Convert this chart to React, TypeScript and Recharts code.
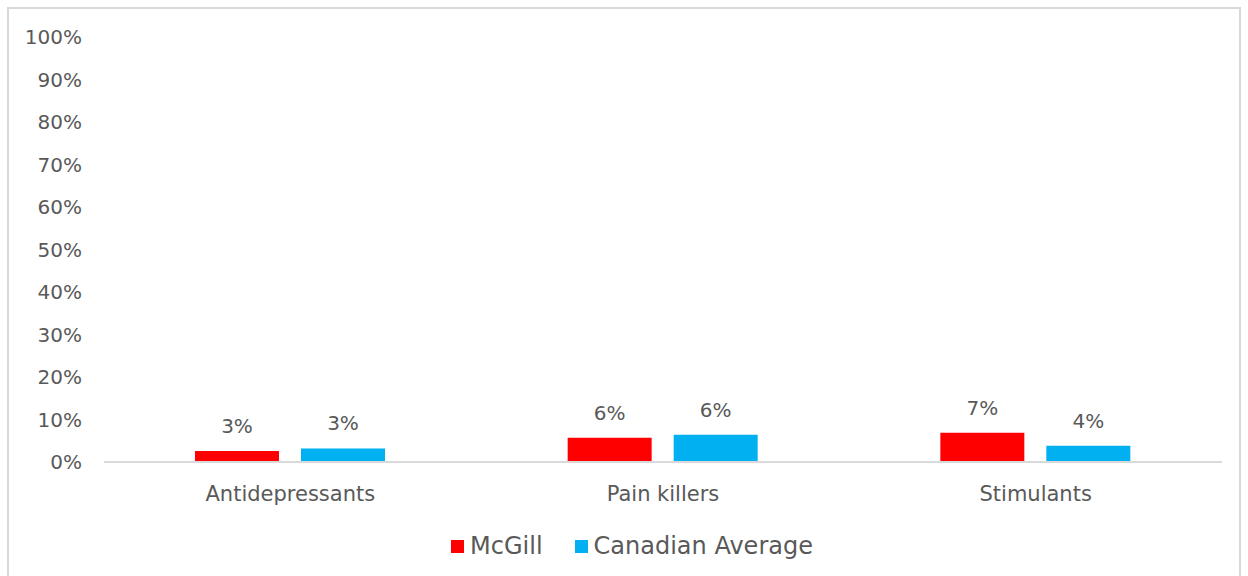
import React from 'react';
import { BarChart, Bar, XAxis, YAxis, Legend, LabelList } from 'recharts';

const categories = ['Antidepressants', 'Pain killers', 'Stimulants'];
const mcgill = [2.6, 5.7, 6.9];
const canadian = [3.2, 6.4, 3.8];
const yTicks = [0, 10, 20, 30, 40, 50, 60, 70, 80, 90, 100];

const data = categories.map((c, i) => ({ name: c, mcgill: mcgill[i], canadian: canadian[i] }));

const FONT = '"DejaVu Sans", sans-serif';
const TXT = '#595959';

const legendItems = [
  { label: 'McGill', color: '#ff0000' },
  { label: 'Canadian Average', color: '#00b0f0' },
];

const LegendContent = () => (
  <div style={{ display: 'flex', justifyContent: 'center', alignItems: 'center', fontFamily: FONT, fontSize: 24, color: TXT, transform: 'translateX(21px)' }}>
    {legendItems.map((it, i) => (
      <div key={i} style={{ display: 'flex', alignItems: 'center', marginLeft: i === 0 ? 0 : 32 }}>
        <span style={{ display: 'inline-block', width: 13, height: 13, background: it.color, marginRight: 6 }} />
        <span>{it.label}</span>
      </div>
    ))}
  </div>
);

export default function App() {
  return (
    <div style={{ position: 'absolute', left: 0, top: 0, width: 1248, height: 576, background: '#fff', overflow: 'hidden' }}>
      <div style={{ position: 'absolute', left: 7, top: 7, width: 1234, height: 580, border: '2px solid #d9d9d9', boxSizing: 'border-box' }} />
      <div style={{ position: 'absolute', left: 0, top: 0 }}>
        <BarChart
          width={1248}
          height={576}
          data={data}
          margin={{ top: 37, right: 26, left: 0, bottom: 16 }}
          barSize={84}
          barGap={22}
        >
          <XAxis
            dataKey="name"
            axisLine={{ stroke: '#d9d9d9', strokeWidth: 2 }}
            tickLine={false}
            tick={{ fill: TXT, fontSize: 21, fontFamily: FONT }}
            tickMargin={18}
            height={50}
          />
          <YAxis
            domain={[0, 100]}
            ticks={yTicks}
            interval={0}
            tickFormatter={(v: number) => `${v}%`}
            axisLine={false}
            tickLine={false}
            tick={{ fill: TXT, fontSize: 20, fontFamily: FONT }}
            tickMargin={16}
            width={104}
          />
          <Legend verticalAlign="bottom" content={<LegendContent />} wrapperStyle={{ paddingTop: 20 }} />
          <Bar dataKey="mcgill" fill="#ff0000" isAnimationActive={false}>
            <LabelList dataKey="mcgill" position="top" offset={18} formatter={(v: number) => `${Math.round(v)}%`} style={{ fill: TXT, fontSize: 20, fontFamily: FONT }} />
          </Bar>
          <Bar dataKey="canadian" fill="#00b0f0" isAnimationActive={false}>
            <LabelList dataKey="canadian" position="top" offset={18} formatter={(v: number) => `${Math.round(v)}%`} style={{ fill: TXT, fontSize: 20, fontFamily: FONT }} />
          </Bar>
        </BarChart>
      </div>
    </div>
  );
}
